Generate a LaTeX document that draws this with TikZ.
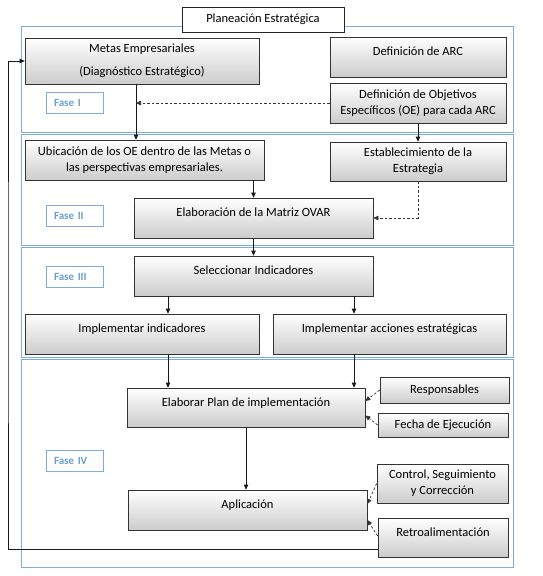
\documentclass[tikz,border=0pt]{standalone}
\usepackage{fontspec}
\setmainfont{Carlito}
\usetikzlibrary{arrows.meta,shadows,calc}
\definecolor{frameblue}{RGB}{125,172,222}
\definecolor{faseblue}{RGB}{105,160,215}
\begin{document}
\begin{tikzpicture}[x=1pt,y=-1pt,
  box/.style={draw=black!80, line width=0.7pt, top color=white, bottom color=black!20,
    drop shadow={shadow xshift=1.2pt,shadow yshift=-1.2pt,fill=black!40,opacity=0.5},
    inner sep=0pt, align=center, font=\fontsize{12.5}{16}\selectfont},
  up/.style={text height=8pt, text depth=10.5pt},
  titlebox/.style={draw=black!85, line width=0.7pt, fill=white, inner sep=0pt,
    minimum width=162pt, minimum height=25pt, font=\fontsize{12.5}{15}\selectfont},
  fase/.style={draw=frameblue, line width=0.8pt, fill=white, text=faseblue,
    font=\fontsize{11}{13}\selectfont\bfseries, text width=41pt, align=left,
    inner xsep=8pt, inner ysep=0pt, minimum height=21pt},
  band/.style={draw=frameblue, line width=0.9pt},
  arr/.style={draw=black!90, line width=0.8pt, -{Triangle[length=5pt,width=4.5pt]}},
  darr/.style={draw=black!80, line width=0.7pt, dash pattern=on 2.5pt off 2pt, -{Triangle[length=5pt,width=4.5pt]}}
]
\useasboundingbox (0,0) rectangle (542,576);

% phase bands
\draw[band] (21,26) rectangle (513,132);
\draw[band] (21,134) rectangle (513,245);
\draw[band] (21,247) rectangle (513,357);
\draw[band] (21,359) rectangle (513,567);

% title
\node[titlebox] (title) at (263,19.5) {Planeación Estratégica};

% phase labels
\node[fase] (f1) at (74.5,103) {Fase I};
\node[fase] (f2) at (74.5,216) {Fase II};
\node[fase] (f3) at (74.5,277) {Fase III};
\node[fase] (f4) at (74.5,460.5) {Fase IV};

% boxes
\node[box, minimum width=234pt, minimum height=46pt] (metas) at (142,61)
  {Metas Empresariales\\[7pt](Diagnóstico Estratégico)};
\node[box, up, minimum width=176pt, minimum height=40pt] (arc) at (418,57) {Definición de ARC};
\node[box, minimum width=176pt, minimum height=40pt] (obj) at (418,103)
  {Definición de Objetivos\\Específicos (OE) para cada ARC};
\node[box, minimum width=239pt, minimum height=40pt] (ubic) at (144.5,160)
  {Ubicación de los OE dentro de las Metas o\\las perspectivas empresariales.};
\node[box, minimum width=176pt, minimum height=39pt] (estab) at (418,161.5)
  {Establecimiento de la\\Estrategia};
\node[box, up, minimum width=239pt, minimum height=40pt] (ovar) at (253.5,218) {Elaboración de la Matriz OVAR};
\node[box, up, minimum width=239pt, minimum height=40pt] (selec) at (253.5,276) {Seleccionar Indicadores};
\node[box, up, minimum width=234pt, minimum height=40pt] (implind) at (142,334) {Implementar indicadores};
\node[box, up, minimum width=233pt, minimum height=40pt] (implacc) at (389.5,334) {Implementar acciones estratégicas};
\node[box, up, minimum width=238pt, minimum height=39pt] (elab) at (246,407.5) {Elaborar Plan de implementación};
\node[box, minimum width=129pt, minimum height=26pt] (resp) at (444.5,390) {Responsables};
\node[box, minimum width=130pt, minimum height=24pt] (fecha) at (443,425) {Fecha de Ejecución};
\node[box, up, minimum width=239pt, minimum height=40pt] (aplic) at (247.5,510) {Aplicación};
\node[box, minimum width=131pt, minimum height=39pt] (control) at (442.5,483.5)
  {Control, Seguimiento\\y Corrección};
\node[box, up, minimum width=130pt, minimum height=39pt] (retro) at (443,537.5) {Retroalimentación};

% helper coordinates
\coordinate (m1) at (136,0);
\coordinate (c1) at (168,0);
\coordinate (c2) at (354,0);
\coordinate (fbl) at (8,300);

% connectors
\draw[arr] (metas.south -| m1) -- (ubic.north -| m1);
\draw[darr] (obj.west) -- (obj.west -| m1);
\draw[arr] (obj.south) -- (estab.north);
\draw[arr] (ovar.north |- ubic.south) -- (ovar.north);
\draw[darr] (estab.south) |- (ovar.east);
\draw[arr] (ovar.south) -- (selec.north);
\draw[arr] (selec.south -| c1) -- (implind.north -| c1);
\draw[arr] (selec.south -| c2) -- (implacc.north -| c2);
\draw[arr] (implind.south -| c1) -- (elab.north -| c1);
\draw[arr] (implacc.south -| c2) -- (elab.north -| c2);
\draw[darr] (resp.west) -- ([yshift=6.5pt]elab.east);
\draw[darr] (fecha.west) -- ([yshift=-8pt]elab.east);
\draw[arr] (elab.south) -- (aplic.north -| elab.south);
\draw[darr] (control.west) -- ([yshift=6pt]aplic.east);
\draw[darr] ([yshift=1.5pt]retro.west) -- ([yshift=-10pt]aplic.east);
\draw[arr] ([yshift=-11.5pt]retro.west) -| (fbl) |- (metas.west);
\end{tikzpicture}
\end{document}
